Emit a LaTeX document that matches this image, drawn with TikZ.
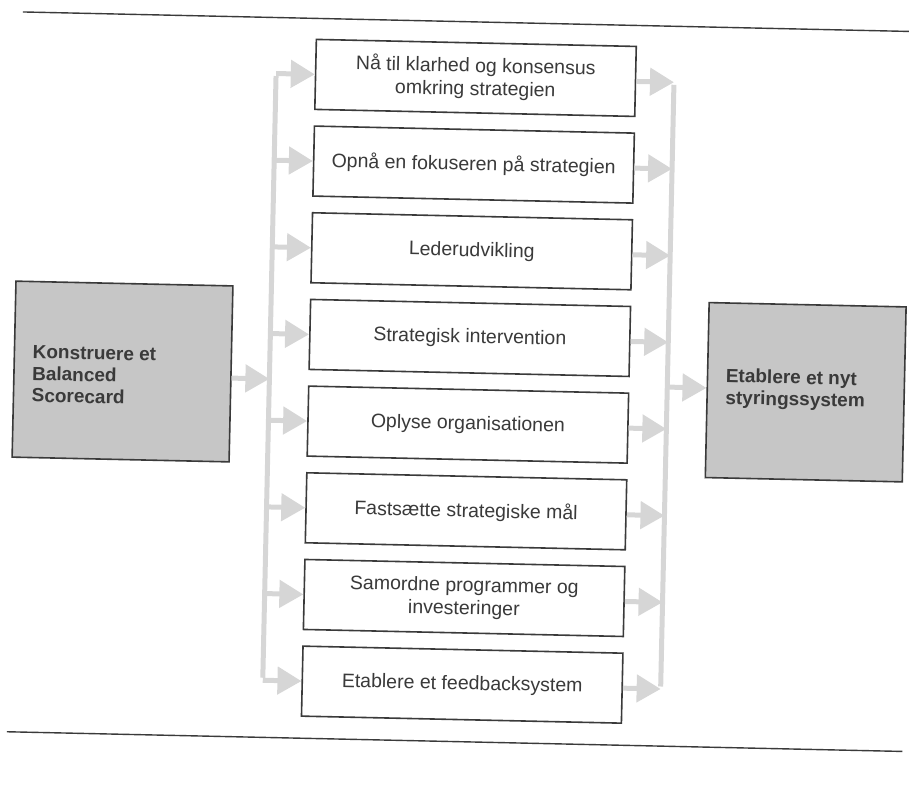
\documentclass[tikz,border=0pt]{standalone}
\usepackage{fontspec}
\setmainfont{Liberation Sans}
\usetikzlibrary{arrows.meta}
\definecolor{ink}{HTML}{3A3A3A}
\definecolor{flowgray}{HTML}{D6D6D6}
\definecolor{boxgray}{HTML}{C6C6C6}
\begin{document}
\begin{tikzpicture}[x=1pt,y=-1pt,
  stepbox/.style={draw=ink, line width=1.6pt, fill=white, minimum width=320pt,
    minimum height=70pt, align=center, text=ink, inner sep=0pt,
    font=\fontsize{19.5}{23}\selectfont},
  endbox/.style={draw=ink, line width=1.6pt, fill=boxgray, text=ink,
    align=left, inner sep=0pt, font=\bfseries\fontsize{19}{21.8}\selectfont},
  endtext/.style={endbox, draw=none, fill=none, anchor=west},
  flow/.style={draw=flowgray, line width=5pt,
    -{Triangle[length=24pt,width=27pt]}},
  bus/.style={draw=flowgray, line width=5pt}]
\useasboundingbox (0,0) rectangle (909,796);

\begin{scope}[rotate around={-1.26:(454,398)}, transform shape]
% frame rules above and below the figure
\draw[ink, line width=1.4pt] (14.5,21.5) -- (940,21.5);
\draw[ink, line width=1.4pt] (14.3,741.5) -- (910,741.5);

% the eight steps
\node[stepbox] (s1) at (468.5,77.5)  {Nå til klarhed og konsensus\\omkring strategien};
\node[stepbox] (s2) at (468.5,164.2) {Opnå en fokuseren på strategien};
\node[stepbox] (s3) at (468.5,250.9) {Lederudvikling};
\node[stepbox] (s4) at (468.5,337.6) {Strategisk intervention};
\node[stepbox] (s5) at (468.5,424.3) {Oplyse organisationen};
\node[stepbox] (s6) at (468.5,511.0) {Fastsætte strategiske mål};
\node[stepbox] (s7) at (468.5,597.7) {Samordne programmer og\\investeringer};
\node[stepbox] (s8) at (468.5,684.4) {Etablere et feedbacksystem};

% start and end boxes
\node[endbox, minimum width=217pt, minimum height=176pt] (start) at (122,378.8) {};
\node[endtext] (starttext) at (31,383) {Konstruere et\\Balanced\\Scorecard};
\node[endbox, minimum width=197pt, minimum height=175pt] (goal) at (805.5,384.5) {};
\node[endtext] (goaltext) at (724.6,382.4) {Etablere et nyt\\styringssystem};

% distribution and collection buses
\coordinate (busL) at (269,0);
\coordinate (busR) at (667,0);
\draw[bus] ([yshift=-2.5pt]busL |- s1.west) -- ([yshift=2.5pt]busL |- s8.west);
\draw[bus] ([yshift=-2.5pt]busR |- s1.east) -- ([yshift=2.5pt]busR |- s8.east);

\draw[flow] (start.east |- starttext.west) -- (busL |- starttext.west);
\foreach \s in {s1,s2,s3,s4,s5,s6,s7,s8} {
  \draw[flow] (busL |- \s.west) -- (\s.west);
  \draw[flow] (\s.east) -- (busR |- \s.east);
}
\draw[flow] (busR |- goaltext.west) -- (goal.west |- goaltext.west);
\end{scope}
\end{tikzpicture}
\end{document}
